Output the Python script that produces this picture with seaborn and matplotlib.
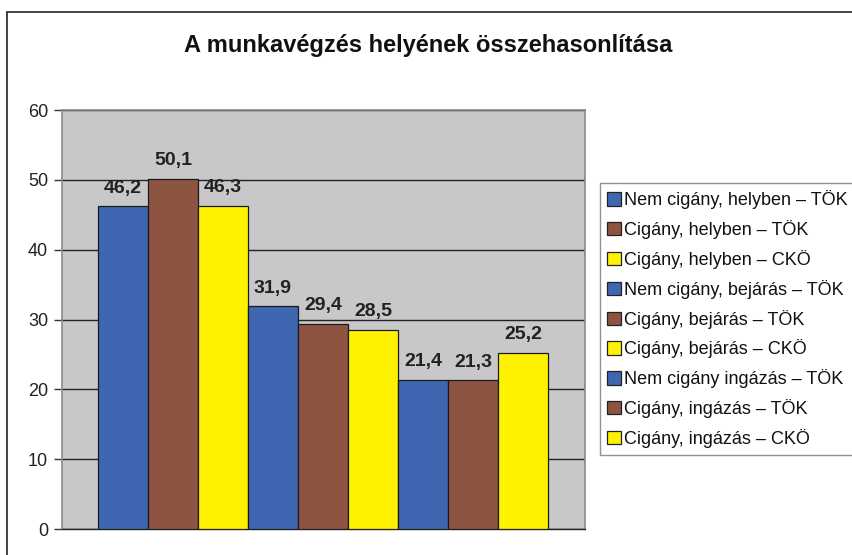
import matplotlib
matplotlib.use("Agg")
import matplotlib.pyplot as plt
from matplotlib.patches import Rectangle, Patch
import seaborn as sns
import pandas as pd

labels = [
    "Nem cigány, helyben – TÖK",
    "Cigány, helyben – TÖK",
    "Cigány, helyben – CKÖ",
    "Nem cigány, bejárás – TÖK",
    "Cigány, bejárás – TÖK",
    "Cigány, bejárás – CKÖ",
    "Nem cigány ingázás – TÖK",
    "Cigány, ingázás – TÖK",
    "Cigány, ingázás – CKÖ",
]
values = [46.2, 50.1, 46.3, 31.9, 29.4, 28.5, 21.4, 21.3, 25.2]
blue, brown, yellow = "#3F67B1", "#8D5442", "#FFF200"
colors = [blue, brown, yellow] * 3
title = "A munkavégzés helyének összehasonlítása"
yticks = [0, 10, 20, 30, 40, 50, 60]

sns.set_style("white")
plt.rcParams["font.family"] = ["Liberation Sans", "DejaVu Sans"]

df = pd.DataFrame({"label": labels, "value": values})

W, H = 853, 555
fig = plt.figure(figsize=(W / 100, H / 100), dpi=100)
fig.patch.set_facecolor("white")

# outer chart frame (extends beyond right/bottom edges)
fig.add_artist(Rectangle((7 / W, -0.1), 1.2, 1 - 12 / H + 0.1, transform=fig.transFigure,
                         fill=False, edgecolor="#222222", linewidth=1.2))

left, right, top, bottom = 62, 585, 110, 529
ax = fig.add_axes([left / W, 1 - bottom / H, (right - left) / W, (bottom - top) / H])
ax.set_facecolor("#C8C8CA")

sns.barplot(data=df, x="label", y="value", hue="label", palette=colors,
            order=labels, hue_order=labels, width=1.0, dodge=False, saturation=1,
            edgecolor="#1a1a1a", linewidth=0.9, legend=False, ax=ax, zorder=3)

ax.set_ylim(0, 60)
ax.set_xlim(-1.22, 9.24)
ax.set_yticks(yticks)
ax.set_yticklabels([str(t) for t in yticks], fontsize=13, color="#222222")
ax.set_xticks([])
ax.set_xlabel("")
ax.set_ylabel("")
ax.yaxis.grid(True, color="#222222", linewidth=1.0, zorder=0)
ax.set_axisbelow(True)
ax.tick_params(axis="y", direction="out", length=6, width=1, color="#333333", pad=4, left=True)
for s in ["top", "right", "left"]:
    ax.spines[s].set_color("#8a8a8a")
    ax.spines[s].set_linewidth(1.2)
ax.spines["bottom"].set_color("#222222")
ax.spines["bottom"].set_linewidth(1.0)

for p, v in zip(ax.patches, values):
    ax.annotate(f"{v:.1f}".replace(".", ","), (p.get_x() + p.get_width() / 2, p.get_height()),
                xytext=(0, 7), textcoords="offset points", ha="center", va="bottom",
                fontsize=14, fontweight="bold", color="#222222")

fig.text(0.502, 1 - 45 / H, title, ha="center", va="center", fontsize=17,
         fontweight="bold", color="#111111")

handles = [Patch(facecolor=c, edgecolor="#222222", linewidth=0.9) for c in colors]
leg = fig.legend(handles, labels, loc="upper left", bbox_to_anchor=(600 / W, 1 - 183 / H),
                 fontsize=13, frameon=True, fancybox=False, handlelength=0.75,
                 handleheight=0.75, handletextpad=0.2, labelspacing=0.6,
                 borderpad=0.4, borderaxespad=0)
leg.get_frame().set_edgecolor("#777777")
leg.get_frame().set_linewidth(1.0)
for t in leg.get_texts():
    t.set_color("#111111")

fig.savefig("out.png", dpi=100)
